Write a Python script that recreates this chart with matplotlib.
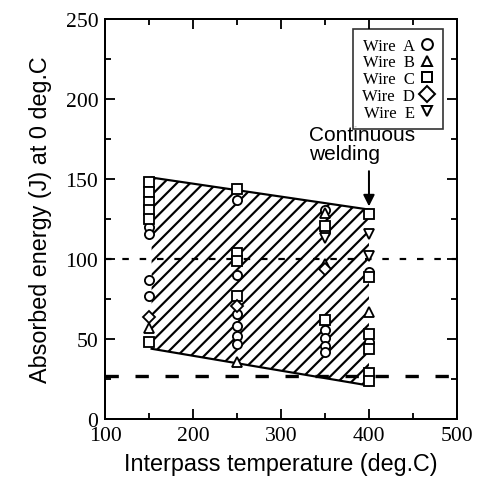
import numpy as np
import matplotlib
matplotlib.use("Agg")
import matplotlib.pyplot as plt
from matplotlib.lines import Line2D
from matplotlib.ticker import MultipleLocator

# Absorbed energy (J) at 0 deg.C, per wire
wire_names = ["A", "B", "C", "D", "E"]
wire_markers = ["o", "^", "s", "D", "v"]

temp_A = [150, 150, 150, 150, 250, 250, 250, 250, 250, 250, 350, 350, 350, 350, 350, 350, 400, 400]
energy_A = [120, 116, 87, 77, 137, 90, 66, 58, 52, 47, 131, 117, 56, 51, 46, 42, 92, 48]

temp_B = [150, 250, 350, 350, 400]
energy_B = [57, 36, 129, 97, 67]

temp_C = [150, 150, 150, 150, 150, 150, 250, 250, 250, 250, 350, 350, 400, 400, 400, 400, 400, 400]
energy_C = [148, 142, 136, 131, 125, 48, 144, 104, 99, 77, 121, 62, 128, 89, 53, 44, 29, 24]

temp_D = [150, 250, 350]
energy_D = [64, 71, 94]

temp_E = [350, 400, 400]
energy_E = [113, 116, 102]

# scatter band (hatched region)
band_temp = [153, 400, 400, 153]
band_energy = [151, 131, 21, 44]

ref_lines = [100, 27]

plt.rcParams['hatch.linewidth'] = 1.3
fig = plt.figure(figsize=(477 / 120, 492 / 120), dpi=120)
ax = fig.add_axes([0.220, 0.146, 0.738, 0.813])

ax.fill(band_temp, band_energy, facecolor="white", edgecolor="black",
        hatch="///", linewidth=0, zorder=1)
ax.plot(band_temp[:2], band_energy[:2], color="black", lw=1.3, zorder=2)
ax.plot(band_temp[2:], band_energy[2:], color="black", lw=1.3, zorder=2)

ax.axhline(ref_lines[0], color="black", lw=1.3, ls=(0, (3, 5)), zorder=1.5)
ax.axhline(ref_lines[1], color="black", lw=2.0, ls=(0, (4, 5)), zorder=1.5)

series = [(temp_A, energy_A), (temp_B, energy_B), (temp_C, energy_C),
          (temp_D, energy_D), (temp_E, energy_E)]
for (t, e), m in zip(series, wire_markers):
    ax.plot(t, e, ls="none", marker=m, ms=5.5, mfc="white", mec="black",
            mew=1.1, zorder=3)

ax.set_xlim(100, 500)
ax.set_ylim(0, 250)
ax.xaxis.set_major_locator(MultipleLocator(100))
ax.xaxis.set_minor_locator(MultipleLocator(50))
ax.yaxis.set_major_locator(MultipleLocator(50))
ax.yaxis.set_minor_locator(MultipleLocator(25))
ax.tick_params(which="both", direction="in", top=True, right=True, width=1.1)
ax.tick_params(which="major", length=6, pad=4)
ax.tick_params(which="minor", length=3.5)
for lab in ax.get_xticklabels() + ax.get_yticklabels():
    lab.set_family("Liberation Serif")
    lab.set_fontsize(13)
for s in ax.spines.values():
    s.set_linewidth(1.2)

ax.set_xlabel("Interpass temperature (deg.C)", family="Liberation Sans",
              fontsize=14, labelpad=4)
ax.set_ylabel("Absorbed energy (J) at 0 deg.C", family="Liberation Sans",
              fontsize=14, labelpad=8)

# annotation for continuous welding
ax.annotate("", xy=(400, 133), xytext=(400, 155),
            arrowprops=dict(arrowstyle="-|>", color="black", lw=1.2,
                            mutation_scale=14, shrinkA=0, shrinkB=0))
ax.text(332, 184, "Continuous\nwelding", family="Liberation Sans",
        fontsize=12.5, ha="left", va="top", linespacing=1.0)

handles = [Line2D([], [], ls="none", marker=m, ms=6.5, mfc="white", mec="black",
                  mew=1.2) for m in wire_markers]
leg = ax.legend(handles, ["Wire  " + n for n in wire_names], loc="upper right",
                bbox_to_anchor=(0.96, 0.975), markerfirst=False, frameon=True,
                fancybox=False, prop={"family": "Liberation Serif", "size": 10},
                labelspacing=0.05, handlelength=0.9, handletextpad=0.3,
                borderpad=0.5, borderaxespad=0)
leg.get_frame().set_edgecolor("black")
leg.get_frame().set_linewidth(1.0)

fig.savefig("out.png", dpi=120)
